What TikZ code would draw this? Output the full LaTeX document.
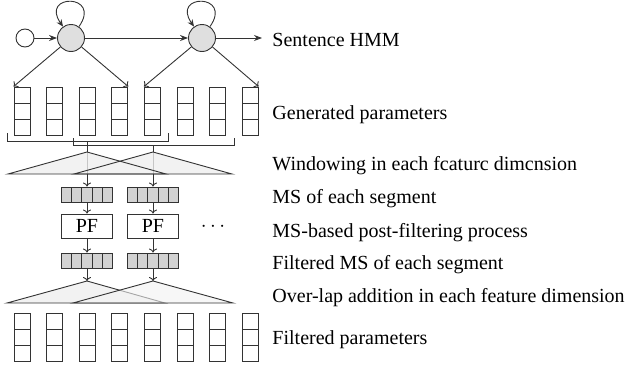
\documentclass[tikz,border=0pt]{standalone}
\usepackage{fontspec}
\setmainfont{Liberation Serif}
\usetikzlibrary{arrows.meta}

\tikzset{
  state/.style={draw=black!80, circle, fill=gray!25, minimum size=27pt, inner sep=0pt, line width=0.9pt},
  param/.style={draw=black!80, minimum width=16pt, minimum height=48pt, inner sep=0pt, line width=0.9pt,
    path picture={
      \draw[black!80, line width=0.9pt] ([yshift=-16pt]path picture bounding box.north west) -- ([yshift=-16pt]path picture bounding box.north east);
      \draw[black!80, line width=0.9pt] ([yshift=-32pt]path picture bounding box.north west) -- ([yshift=-32pt]path picture bounding box.north east);
    }},
  msbox/.style={draw=black!80, fill=gray!35, minimum width=51pt, minimum height=15pt, inner sep=0pt, line width=0.9pt,
    path picture={
      \foreach \k in {1,...,4}
        \draw[black!80, line width=0.9pt] ([xshift=\k*10.2pt]path picture bounding box.north west) -- ([xshift=\k*10.2pt]path picture bounding box.south west);
    }},
  pfbox/.style={draw=black!80, minimum width=51pt, minimum height=24pt, inner sep=0pt, line width=0.9pt,
    font=\fontsize{20}{24}\selectfont},
  window/.style={draw=black!80, fill=gray!10, line width=0.9pt},
  steplabel/.style={anchor=base west, inner sep=0pt, font=\fontsize{20}{24}\selectfont},
  >={To[length=4pt, width=8pt]},
}

\begin{document}
\begin{tikzpicture}[x=1pt, y=-1pt, line width=0.9pt, draw=black!80]
  \useasboundingbox (0,0) rectangle (630,367);

  % sentence HMM
  \node[state, fill=white, minimum size=18pt] (init) at (25,38) {};
  \node[state] (s1) at (71,38) {};
  \node[state] (s2) at (202,38) {};
  \coordinate (hmmend) at (262,38);
  \draw[-{Stealth[length=8pt, width=6pt]}] (init) -- (s1);
  \draw[-{Stealth[length=8pt, width=6pt]}] (s1) -- (s2);
  \draw[-{Stealth[length=8pt, width=6pt]}] (s2) -- (hmmend);
  \draw[-{Stealth[length=7pt, width=6pt]}] (s1) to[out=55, in=125, looseness=6.5] (s1);
  \draw[-{Stealth[length=7pt, width=6pt]}] (s2) to[out=55, in=125, looseness=6.5] (s2);

  % generated and filtered parameters
  \foreach \i in {1,...,8} {
    \node[param] (g\i) at ({22+(\i-1)*32.6}, 111) {};
    \node[param] (f\i) at ({22+(\i-1)*32.6}, 337) {};
  }
  \draw[->] (s1) -- (g1.north west);
  \draw[->] (s1) -- (g4.north east);
  \draw[->] (s2) -- (g5.north west);
  \draw[->] (s2) -- (g8.north east);

  % segments
  \draw (7,133) -- (7,141) -- (168,141) -- (168,133);
  \draw (73,138) -- (73,145) -- (234,145) -- (234,138);
  \draw (87,141) -- (87,152);
  \draw (153,145) -- (153,152);

  % windowing
  \coordinate (w1) at (87,174);
  \coordinate (w2) at (153,174);
  \fill[gray!10] (87,152) -- (8,174) -- (166,174) -- cycle;
  \fill[gray!10] (153,152) -- (74,174) -- (232,174) -- cycle;
  \draw[gray!45] (87,152) -- (w1);
  \draw[gray!45] (153,152) -- (w2);
  \draw (87,152) -- (8,174) -- (166,174) -- cycle;
  \draw (153,152) -- (74,174) -- (232,174) -- cycle;

  % MS and post-filtering
  \node[msbox] (ms1) at (87,194.5) {};
  \node[msbox] (ms2) at (153,194.5) {};
  \node[pfbox] (pf1) at (87,226) {PF};
  \node[pfbox] (pf2) at (153,226) {PF};
  \node[msbox] (fms1) at (87,260.5) {};
  \node[msbox] (fms2) at (153,260.5) {};
  \node[font=\fontsize{20}{24}\selectfont] (dots) at (213,227) {$\cdots$};
  \draw[->] (w1) -- (ms1);
  \draw[->] (w2) -- (ms2);
  \draw[->] (ms1) -- (pf1);
  \draw[->] (ms2) -- (pf2);
  \draw[->] (pf1) -- (fms1);
  \draw[->] (pf2) -- (fms2);

  % over-lap addition
  \coordinate (a1) at (87,281);
  \coordinate (a2) at (153,281);
  \draw[->] (fms1) -- (a1);
  \draw[->] (fms2) -- (a2);
  \draw[window] (a1) -- (7,303) -- (165,303) -- cycle;
  \draw[window, fill opacity=0.6] (a2) -- (73,303) -- (233,303) -- cycle;

  % labels
  \node[steplabel] (lhmm) at (272,46) {Sentence HMM};
  \node[steplabel] (lgen) at (272,119) {Generated parameters};
  \node[steplabel] (lwin) at (272,170) {Windowing in each fcaturc dimcnsion};
  \node[steplabel] (lms) at (272,203) {MS of each segment};
  \node[steplabel] (lpf) at (272,237) {MS-based post-filtering process};
  \node[steplabel] (lfms) at (272,269) {Filtered MS of each segment};
  \node[steplabel] (lola) at (272,302) {Over-lap addition in each feature dimension};
  \node[steplabel] (lfil) at (272,344) {Filtered parameters};
\end{tikzpicture}
\end{document}
